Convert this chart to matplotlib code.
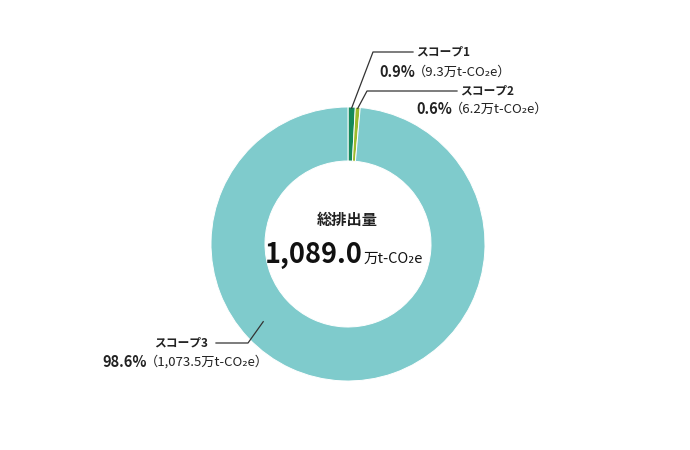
import numpy as np
import matplotlib.pyplot as plt

plt.rcParams['font.family'] = ['Noto Sans CJK JP', 'DejaVu Sans']

labels = ['スコープ1', 'スコープ2', 'スコープ3']
values = [9.3, 6.2, 1073.5]
percents = ['0.9%', '0.6%', '98.6%']
amounts = ['（9.3万t-CO₂e）', '（6.2万t-CO₂e）', '（1,073.5万t-CO₂e）']
colors = ['#14895a', '#9cba2e', '#7fcbcc']
total_label = '1,089.0'

W, H = 690, 450
fig = plt.figure(figsize=(W / 100, H / 100), dpi=100)
ax = fig.add_axes([0, 0, 1, 1])

cx, cy, r_out, r_in = 348, H - 244, 137, 83
wedges, _ = ax.pie(values, colors=colors, startangle=90, counterclock=False,
                   center=(cx, cy), radius=r_out,
                   wedgeprops=dict(width=r_out - r_in, edgecolor='white', linewidth=0.7))
ax.set_xlim(0, W)
ax.set_ylim(0, H)
ax.set_aspect('equal')
ax.axis('off')

# leader lines: (anchor angle or None, anchor radius, bend point, end of horizontal, 2nd line y, split x)
layout = [
    (None, r_out - 1, (373, H - 52), 413, H - 72, 415),
    (None, r_out - 1, (367, H - 91), 457, H - 109, 452),
    (222.5, 115, (248, H - 343), 216, H - 362, 147),
]
for w, lab, pct, amt, (a, rr, bend, hx, y2, sx) in zip(wedges, labels, percents, amounts, layout):
    ang = np.deg2rad((w.theta1 + w.theta2) / 2 if a is None else a)
    sx0, sy0 = cx + rr * np.cos(ang), cy + rr * np.sin(ang)
    ax.plot([sx0, bend[0], hx], [sy0, bend[1], bend[1]], color='#333333', lw=0.9)
    if hx > bend[0]:
        ax.text(hx + 3, bend[1], lab, ha='left', va='center', fontsize=8.5,
                fontweight='bold', color='#222222')
    else:
        ax.text(hx - 8, bend[1], lab, ha='right', va='center', fontsize=8.5,
                fontweight='bold', color='#222222')
    ax.text(sx, y2, pct, ha='right', va='center', fontsize=10.5, fontweight='bold', color='#222222')
    ax.text(sx - 2, y2, amt, ha='left', va='center', fontsize=9.5, color='#222222')

ax.text(cx - 1, H - 220, '総排出量', ha='center', va='center', fontsize=11,
        fontweight='bold', color='#222222')
ax.text(363, H - 263, total_label, ha='right', va='baseline', fontsize=19.5,
        fontweight='bold', color='#111111')
ax.text(364, H - 263, '万t-CO₂e', ha='left', va='baseline', fontsize=10.5,
        color='#111111')

fig.savefig('out.png', dpi=100)
